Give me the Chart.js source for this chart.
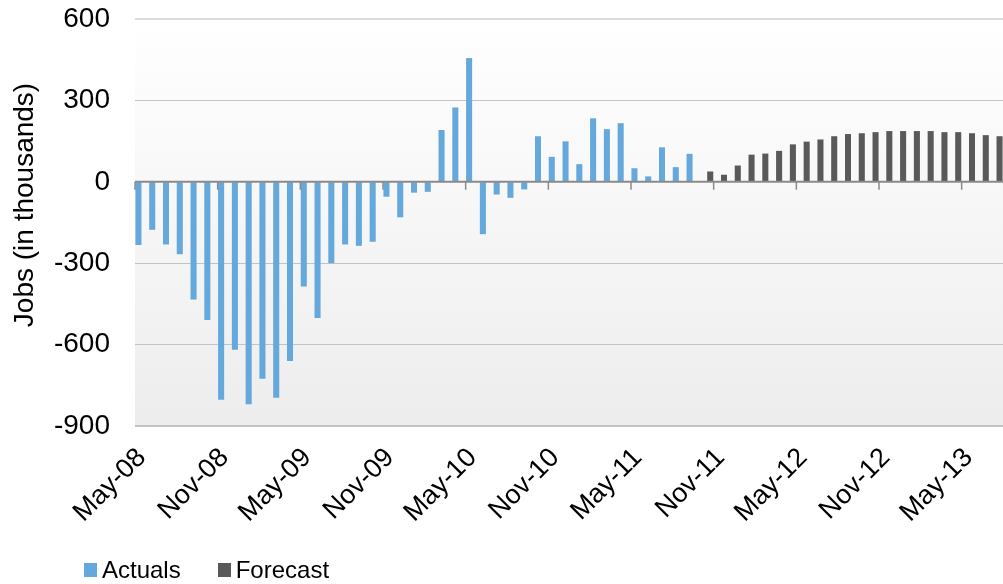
<!DOCTYPE html>
<html>
<head>
<meta charset="utf-8">
<script src="https://cdn.jsdelivr.net/npm/chart.js@4.4.1/dist/chart.umd.min.js"></script>
<style>
  body { margin: 0; background: #fff; font-family: "Liberation Sans", Arial, sans-serif; }
  #wrap { position: relative; width: 1003px; height: 584px; }
  #legend { position: absolute; left: 84px; top: 556px; font-size: 24px; color: #000; display: flex; align-items: center; }
  #legend span.box { display: inline-block; width: 13px; height: 14px; margin-right: 5px; }
  #legend span.item { display: flex; align-items: center; margin-right: 37px; }
</style>
</head>
<body>
<div id="wrap">
  <canvas id="jobsChart"></canvas>
  <div id="legend">
    <span class="item"><span class="box" style="background:#65a8dc"></span>Actuals</span>
    <span class="item"><span class="box" style="background:#595959"></span>Forecast</span>
  </div>
</div>
<script>
// monthly categories, May-08 .. Jul-13
const labels = [
  'May-08', 'Jun-08', 'Jul-08', 'Aug-08', 'Sep-08', 'Oct-08', 'Nov-08', 'Dec-08',
  'Jan-09', 'Feb-09', 'Mar-09', 'Apr-09', 'May-09', 'Jun-09', 'Jul-09', 'Aug-09', 'Sep-09', 'Oct-09', 'Nov-09', 'Dec-09',
  'Jan-10', 'Feb-10', 'Mar-10', 'Apr-10', 'May-10', 'Jun-10', 'Jul-10', 'Aug-10', 'Sep-10', 'Oct-10', 'Nov-10', 'Dec-10',
  'Jan-11', 'Feb-11', 'Mar-11', 'Apr-11', 'May-11', 'Jun-11', 'Jul-11', 'Aug-11', 'Sep-11', 'Oct-11', 'Nov-11', 'Dec-11',
  'Jan-12', 'Feb-12', 'Mar-12', 'Apr-12', 'May-12', 'Jun-12', 'Jul-12', 'Aug-12', 'Sep-12', 'Oct-12', 'Nov-12', 'Dec-12',
  'Jan-13', 'Feb-13', 'Mar-13', 'Apr-13', 'May-13', 'Jun-13', 'Jul-13'
];

// job change, thousands (May-08 .. Sep-11)
const actuals = [
  -233, -177, -231, -267, -434, -509, -803, -619, -820, -726, -796, -660,
  -386, -502, -300, -231, -236, -221, -55, -131, -40, -37, 191, 274,
  456, -193, -47, -59, -28, 168, 92, 149, 65, 234, 194, 216,
  50, 20, 127, 54, 103
];

// forecast, thousands (Oct-11 .. Jul-13)
const forecast = [
  38, 26, 60, 100, 104, 114, 138, 148, 156, 168, 176, 179,
  183, 187, 187, 187, 187, 183, 183, 179, 172, 168
];
const forecastStart = actuals.length;

const yTicks = [-900, -600, -300, 0, 300, 600];
const yTitle = 'Jobs (in thousands)';

const actualsData = labels.map((_, i) => i < actuals.length ? actuals[i] : null);
const forecastData = labels.map((_, i) => i >= forecastStart ? forecast[i - forecastStart] : null);

const font = '"Liberation Sans", Arial, sans-serif';

// plot background, zero axis line, half-year tick marks, axis title
const excelLook = {
  id: 'excelLook',
  beforeDraw(chart) {
    const { ctx, chartArea: a } = chart;
    const g = ctx.createLinearGradient(0, a.top, 0, a.bottom);
    g.addColorStop(0, '#ffffff');
    g.addColorStop(1, '#ededed');
    ctx.save();
    ctx.fillStyle = g;
    ctx.fillRect(a.left, a.top, a.right - a.left, a.bottom - a.top);
    ctx.restore();
  },
  afterDatasetsDraw(chart) {
    const { ctx, chartArea: a, scales: { x, y } } = chart;
    const y0 = y.getPixelForValue(0);
    const step = (x.right - x.left) / labels.length;
    ctx.save();
    ctx.strokeStyle = '#8a8a8a';
    ctx.lineWidth = 2;
    ctx.beginPath();
    ctx.moveTo(a.left, y0);
    ctx.lineTo(a.right, y0);
    ctx.stroke();
    ctx.lineWidth = 1.5;
    ctx.beginPath();
    for (let i = 0; i < labels.length; i += 6) {
      const px = x.getPixelForValue(i) - step / 2;
      ctx.moveTo(px, y0);
      ctx.lineTo(px, y0 + 8);
    }
    ctx.stroke();
    ctx.restore();
  },
  afterDraw(chart) {
    const { ctx } = chart;
    ctx.save();
    ctx.translate(25, 205);
    ctx.rotate(-Math.PI / 2);
    ctx.fillStyle = '#000';
    ctx.font = '28px ' + font;
    ctx.textAlign = 'center';
    ctx.textBaseline = 'middle';
    ctx.fillText(yTitle, 0, 0);
    ctx.restore();
  }
};

const ctx = document.getElementById('jobsChart').getContext('2d');
new Chart(ctx, {
  type: 'bar',
  data: {
    labels: labels,
    datasets: [{
      label: 'Actuals',
      data: actualsData,
      backgroundColor: '#65a8dc'
    }, {
      label: 'Forecast',
      data: forecastData,
      backgroundColor: '#595959'
    }]
  },
  options: {
    responsive: true,
    maintainAspectRatio: false,
    animation: false,
    layout: { padding: { top: 19, right: 0, left: 0, bottom: 0 } },
    datasets: { bar: { categoryPercentage: 1, barPercentage: 0.88 } },
    plugins: {
      legend: { display: false },
      tooltip: { enabled: false }
    },
    scales: {
      x: {
        grid: { display: false, drawTicks: false },
        border: { display: false },
        afterFit: s => { s.height = 158; s.paddingLeft = 0; s.paddingRight = 0; },
        ticks: {
          autoSkip: false,
          maxRotation: 45,
          minRotation: 45,
          padding: 16,
          color: '#000',
          font: { family: font, size: 27 },
          callback: (v, i) => i % 6 === 0 ? labels[i] : ''
        }
      },
      y: {
        min: yTicks[0],
        max: yTicks[yTicks.length - 1],
        afterBuildTicks: s => { s.ticks = yTicks.map(v => ({ value: v })); },
        afterFit: s => { s.width = 135; s.paddingTop = 0; s.paddingBottom = 0; },
        border: { display: false },
        grid: {
          drawTicks: false,
          color: c => c.tick.value === 0 ? 'rgba(0,0,0,0)' : (c.tick.value === 600 ? '#dcdcdc' : '#c3c3c3'),
          lineWidth: c => (c.tick.value === 600 || c.tick.value === -900) ? 2 : 1
        },
        ticks: {
          padding: 25,
          color: '#000',
          font: { family: font, size: 28 }
        },
        title: { display: false }
      }
    }
  },
  plugins: [excelLook]
});
</script>
</body>
</html>
